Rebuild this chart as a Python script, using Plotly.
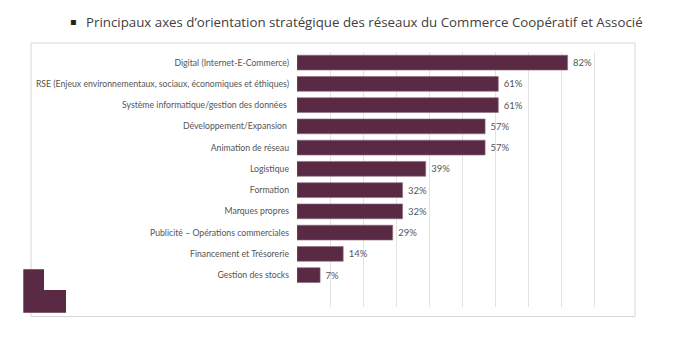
import plotly.graph_objects as go

categories = [
    "Digital (Internet-E-Commerce)",
    "RSE (Enjeux environnementaux, sociaux, économiques et éthiques)",
    "Système informatique/gestion des données\u00a0",
    "Développement/Expansion\u00a0",
    "Animation de réseau",
    "Logistique",
    "Formation",
    "Marques propres",
    "Publicité – Opérations commerciales",
    "Financement et Trésorerie",
    "Gestion des stocks",
]
values = [82, 61, 61, 57, 57, 39, 32, 32, 29, 14, 7]
value_labels = [f"\u00a0{v}%" for v in values]
title_text = "Principaux axes d’orientation stratégique des réseaux du Commerce Coopératif et Associé"

W, H = 680, 341
L, R, T, B = 297, 53, 52, 34
pw, ph = W - L - R, H - T - B

def px(x):
    return (x - L) / pw

def py(y):
    return (H - B - y) / ph

bar_color = "#5a2a45"
text_color = "#555555"

fig = go.Figure()
fig.add_trace(go.Bar(
    x=values,
    y=categories,
    orientation="h",
    marker=dict(color=bar_color, line=dict(color="#8e6b80", width=0.6)),
    text=value_labels,
    textposition="outside",
    textfont=dict(family="Lato", size=9.5, color=text_color),
    cliponaxis=False,
    width=0.7,
))

fig.update_layout(
    width=W, height=H,
    margin=dict(l=L, r=R, t=T, b=B, pad=0),
    paper_bgcolor="white",
    plot_bgcolor="white",
    showlegend=False,
    xaxis=dict(
        range=[0, 100], dtick=10, tick0=0,
        showgrid=True, gridcolor="#e3e3e3", gridwidth=1,
        showticklabels=False, zeroline=False, showline=False, ticks="",
        fixedrange=True,
    ),
    yaxis=dict(
        autorange=False, range=[11.5, -0.5],
        type="category",
        showgrid=False, zeroline=False, showline=False,
        ticks="", ticklabelstandoff=7,
        tickfont=dict(family="Lato", size=8.7, color=text_color),
    ),
)

fig.add_annotation(
    text=title_text, xref="paper", yref="paper",
    x=px(84), y=py(22), xanchor="left", yanchor="middle",
    showarrow=False, font=dict(family="Open Sans", size=13.3, color="#404040"),
)
fig.add_annotation(
    text="▪", xref="paper", yref="paper",
    x=px(73), y=py(22), xanchor="center", yanchor="middle",
    showarrow=False, font=dict(family="DejaVu Sans", size=10, color="#222222"),
)

# frame
fig.add_shape(type="rect", xref="paper", yref="paper",
              x0=px(31), x1=px(635), y0=py(316.5), y1=py(43),
              line=dict(color="#d6d6d6", width=1), fillcolor="rgba(0,0,0,0)", layer="below")
# decorative L
path = (f"M {px(23.3)} {py(269.3)} L {px(44)} {py(269.3)} L {px(44)} {py(290)} "
        f"L {px(66)} {py(290)} L {px(66)} {py(312.7)} L {px(23.3)} {py(312.7)} Z")
fig.add_shape(type="path", xref="paper", yref="paper", path=path,
              fillcolor=bar_color, line=dict(width=0))

fig.write_html("out.html")
